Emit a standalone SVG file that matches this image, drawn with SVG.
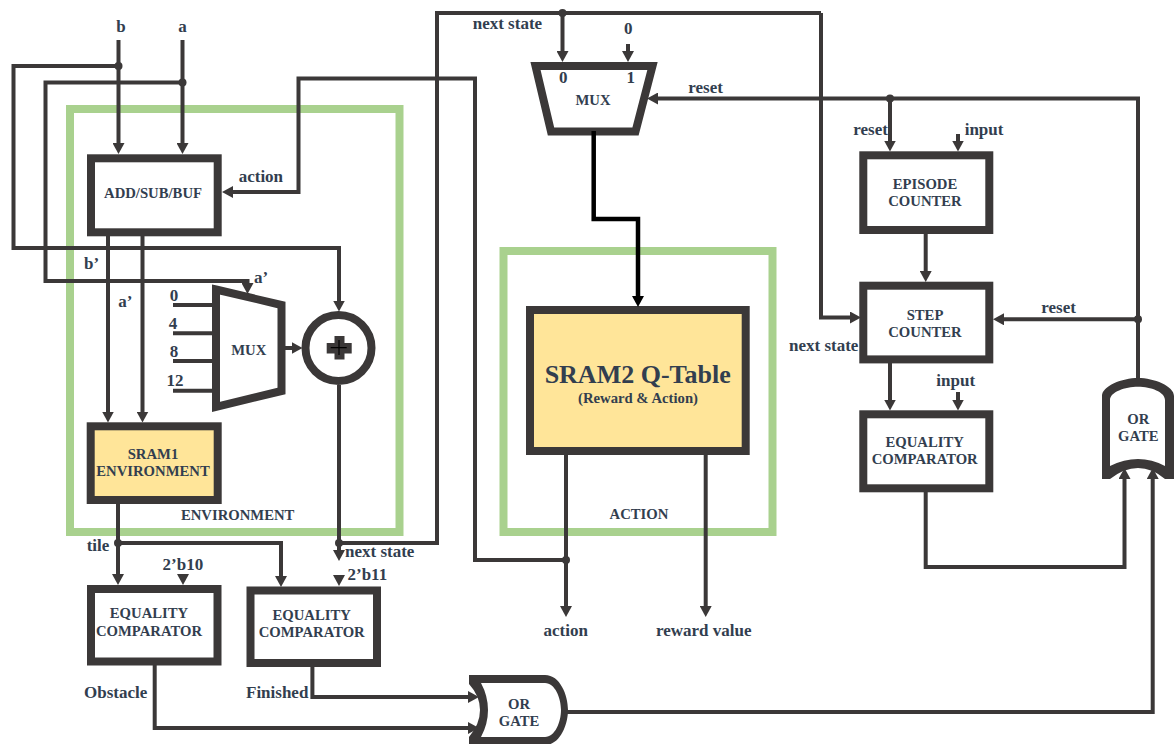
<svg xmlns="http://www.w3.org/2000/svg" width="1174" height="744" viewBox="0 0 1174 744">
<style>
text{font-family:"Liberation Serif","Times New Roman",serif;font-weight:bold;fill:#323E4F;font-size:17px}
.c{text-anchor:middle}
.n{font-size:14.7px}
.g{fill:none;stroke:#A9D18E;stroke-width:8}
.b{fill:#fff;stroke:#3B3838;stroke-width:8}
.y{fill:#FFE599;stroke:#3B3838;stroke-width:8}
.w{fill:none;stroke:#3B3838;stroke-width:4;marker-end:url(#a)}
.l{fill:none;stroke:#3B3838;stroke-width:4}
.k{fill:none;stroke:#000;stroke-width:4.5;marker-end:url(#k)}
.d{fill:#3B3838}
.f{fill:#fff}
</style>
<defs>
<marker id="a" markerUnits="userSpaceOnUse" markerWidth="11" markerHeight="12" refX="6" refY="6" orient="auto"><path d="M0,0L11,6L0,12z" fill="#3B3838"/></marker>
<marker id="k" markerUnits="userSpaceOnUse" markerWidth="11" markerHeight="12" refX="6" refY="6" orient="auto"><path d="M0,0L11,6L0,12z" fill="#000"/></marker>
</defs>
<g id="environment-region"><rect class="g" x="70" y="109" width="329.5" height="423"/><text class="c n" x="237.7" y="520">ENVIRONMENT</text></g>
<g id="action-region"><rect class="g" x="503.5" y="251" width="269" height="281"/><text class="c n" x="639" y="518.7">ACTION</text></g>

<g id="add-sub-buf"><rect class="b" x="91" y="158.3" width="126.7" height="74"/><text class="c n" x="153" y="197.5">ADD/SUB/BUF</text></g>
<g id="sram1"><rect class="y" x="90.7" y="426.3" width="127" height="73.7"/><text class="c n" x="153" y="459">SRAM1</text><text class="c n" x="153" y="476">ENVIRONMENT</text></g>
<g id="mux-left"><path class="b" d="M216,289.5L281.500,305V391L216,407z"/><text class="c n" x="248.700" y="355">MUX</text></g>
<g id="adder"><circle class="b" cx="338.500" cy="348" r="33"/><path class="d" d="M334.500,336h10v7h7.200v10.500h-7.200v6h-10v-6h-7.800v-10.500h7.800z"/><path d="M330.700,347.700h16M339,340v15" stroke="#000" stroke-width="1.200"/></g>
<g id="eq-obstacle"><rect class="b" x="91" y="589" width="126.500" height="72.500"/><text class="c n" x="149" y="618">EQUALITY</text><text class="c n" x="149" y="635.700">COMPARATOR</text></g>
<g id="eq-finished"><rect class="b" x="250.500" y="590.500" width="126.500" height="72.500"/><text class="c n" x="311.700" y="620">EQUALITY</text><text class="c n" x="311.700" y="637">COMPARATOR</text></g>
<g id="or-bottom"><path class="d" d="M469,675H545C560,675 568,695 568,710C568,725 560,745 545,745H469V737Q480,724 480,710Q480,696 469,684z"/><path class="f" d="M481,683H545C555,683 561,698 561,710C561,722 555,737 545,737H481Q488,724 488,710Q488,696 481,683z"/><text class="c n" x="519" y="708.700">OR</text><text class="c n" x="519" y="726">GATE</text></g>
<g id="mux-top"><path class="b" d="M535.500,66H652.500L635.500,131.500H551z"/><text class="c" x="563.300" y="83.300">0</text><text class="c" x="630.700" y="83.300">1</text><text class="c n" x="593" y="105">MUX</text></g>
<g id="sram2"><rect class="y" x="530" y="310" width="215.700" height="141"/><text class="c" x="637.700" y="383.300" style="font-size:26px">SRAM2 Q-Table</text><text class="c n" x="638" y="403.300">(Reward &amp; Action)</text></g>
<g id="episode-counter"><rect class="b" x="863.300" y="155.300" width="126" height="74.700"/><text class="c n" x="925" y="189">EPISODE</text><text class="c n" x="925" y="206.300">COUNTER</text></g>
<g id="step-counter"><rect class="b" x="863.300" y="285.700" width="126" height="73.700"/><text class="c n" x="925" y="320">STEP</text><text class="c n" x="925" y="337">COUNTER</text></g>
<g id="eq-step"><rect class="b" x="863.300" y="414.300" width="126" height="74"/><text class="c n" x="924.700" y="446.700">EQUALITY</text><text class="c n" x="924.700" y="464">COMPARATOR</text></g>
<g id="or-right"><path class="d" d="M1102,479V396C1102,386 1122,378 1138,378C1154,378 1174,386 1174,396V479H1165Q1152,468 1138,468Q1124,468 1110,479z"/><path class="f" d="M1110,466V400C1110,392 1125,386.700 1138,386.700C1151,386.700 1165,392 1165,400V466Q1152,459 1138,459Q1124,459 1110,466z"/><text class="c n" x="1138.300" y="424">OR</text><text class="c n" x="1138.300" y="441">GATE</text></g>

<g id="connectors">
<path class="w" d="M118.500,40V149"/>
<path class="w" d="M182.500,40V149"/>
<path class="w" d="M118.500,66H13.500V248H339V306.500"/>
<path class="w" d="M182.500,82.500H45.500V281H247.500V289"/>
<path class="w" d="M566,560H475V78.500H298.500V192H227"/>
<path class="w" d="M108,236V417.500"/>
<path class="w" d="M142.500,236V417.500"/>
<path class="l" d="M173,305H213M173,333.300H213M173,361H213M173,390.700H213"/>
<path class="w" d="M285,348H297.500"/>
<path class="w" d="M339,385V556"/>
<path class="l" d="M339,543H437V13H821"/>
<path class="w" d="M821,13V317.500H856"/>
<path class="w" d="M562.500,13V57"/>
<path class="w" d="M628,44V57"/>
<path class="k" d="M593.700,131V219H638V302"/>
<path class="w" d="M566,455V612"/>
<path class="w" d="M705.700,455V612"/>
<path class="w" d="M118,504V580"/>
<path class="w" d="M118,543H281V582"/>
<path class="w" d="M183,574V580"/>
<path class="w" d="M339,575V581"/>
<path class="w" d="M154.700,665V728H474"/>
<path class="w" d="M312.400,667V697H474"/>
<path class="w" d="M567,712H1152.700V473"/>
<path class="w" d="M1138,380V98.500H652"/>
<path class="w" d="M890,98.500V146.500"/>
<path class="w" d="M1138,319.300H998"/>
<path class="w" d="M958,134V146.500"/>
<path class="w" d="M925.700,234V277"/>
<path class="w" d="M890,363V405.500"/>
<path class="w" d="M958,392V405.500"/>
<path class="w" d="M925.700,492V567H1124.500V473"/>
<circle class="d" cx="118.500" cy="66" r="4"/>
<circle class="d" cx="182.500" cy="82.500" r="4"/>
<circle class="d" cx="118" cy="543" r="4"/>
<circle class="d" cx="339" cy="543" r="4"/>
<circle class="d" cx="562.500" cy="13" r="4"/>
<circle class="d" cx="566" cy="560" r="4"/>
<circle class="d" cx="890" cy="98.500" r="4"/>
<circle class="d" cx="1138" cy="319.300" r="4"/>
</g>

<g id="labels">
<text class="c" x="121" y="31.500">b</text>
<text class="c" x="182.500" y="31.500">a</text>
<text x="238.700" y="182.300">action</text>
<text x="84" y="269.300">b’</text>
<text x="118.300" y="306.700">a’</text>
<text x="254" y="282.700">a’</text>
<text class="c" x="174" y="301">0</text>
<text class="c" x="173" y="329.300">4</text>
<text class="c" x="174" y="357.300">8</text>
<text class="c" x="175" y="385.700">12</text>
<text x="86.700" y="550.700">tile</text>
<text x="345" y="556.700">next state</text>
<text x="162.600" y="569.700">2’b10</text>
<text x="347.500" y="580">2’b11</text>
<text x="84" y="698">Obstacle</text>
<text x="246" y="698">Finished</text>
<text class="c" x="565.700" y="635.700">action</text>
<text class="c" x="703.700" y="636">reward value</text>
<text x="472.700" y="29">next state</text>
<text class="c" x="628.300" y="34.300">0</text>
<text x="688.300" y="92.700">reset</text>
<text x="853.300" y="135">reset</text>
<text x="964.700" y="135">input</text>
<text x="1041.300" y="313.300">reset</text>
<text x="789" y="350.700">next state</text>
<text x="936.300" y="386">input</text>
</g>
</svg>
